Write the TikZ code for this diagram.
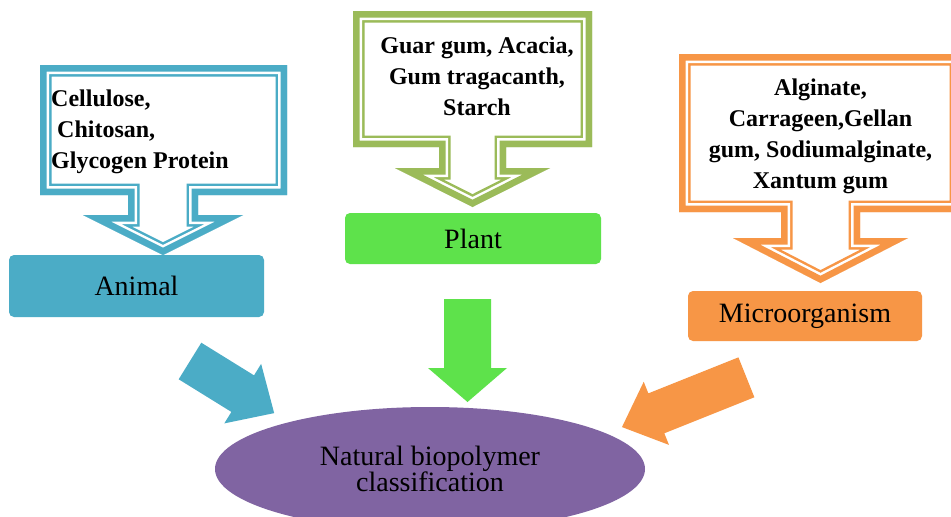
\documentclass[tikz,border=0pt]{standalone}
\usepackage{fontspec}
\setmainfont{Liberation Serif}
\usetikzlibrary{shapes.geometric}
\definecolor{cteal}{HTML}{4BACC6}
\definecolor{colive}{HTML}{9BBB59}
\definecolor{cgreen}{HTML}{5EE24B}
\definecolor{corange}{HTML}{F79646}
\definecolor{cpurple}{HTML}{8064A2}
\tikzset{
  catbox/.style={rectangle, rounded corners=5pt, inner sep=0pt, text=black,
    font=\fontsize{28}{25}\selectfont},
  calltext/.style={inner sep=0pt, text=black, font=\fontsize{24}{31}\selectfont\bfseries},
  pics/blockarrow/.style n args={4}{code={%
    \fill (0,{-#4/2}) -- ({#1-#2},{-#4/2}) -- ({#1-#2},{-#3/2}) -- (#1,0)
      -- ({#1-#2},{#3/2}) -- ({#1-#2},{#4/2}) -- (0,{#4/2}) -- cycle;}},
}
\newcommand\dblcallout[2]{%
  \begin{scope}
    \clip #2;
    \fill[white] #2;
    \draw[#1, line width=23pt, line join=miter] #2;
    \draw[white, line width=18pt, line join=miter] #2;
    \draw[#1, line width=13pt, line join=miter] #2;
  \end{scope}}
\begin{document}
\begin{tikzpicture}[x=1pt, y=-1pt]
\useasboundingbox (0,0) rectangle (951,517);
\fill[white] (0,0) rectangle (951,517);
\clip (0,0) rectangle (951,517);

% callouts
\dblcallout{cteal}{(40,65) -- (287,65) -- (287,195) -- (198,195) -- (198,215) -- (243,215) -- (163,255) -- (83,215) -- (128,215) -- (128,195) -- (40,195) -- cycle}
\dblcallout{colive}{(353,11) -- (592,11) -- (592,147) -- (506,147) -- (506,168) -- (550,168) -- (472.5,207) -- (395,168) -- (439,168) -- (439,147) -- (353,147) -- cycle}
\dblcallout{corange}{(679,54) -- (961,54) -- (961,212) -- (860,212) -- (860,238) -- (908,238) -- (820.5,283) -- (733,238) -- (781,238) -- (781,212) -- (679,212) -- cycle}

\node[calltext, anchor=north west, align=left] (atext) at (51,84.3)
  {\strut Cellulose,\\\hspace*{6pt}Chitosan,\\Glycogen Protein};
\node[calltext, anchor=north, align=center] (ptext) at (477,31.3)
  {\strut Guar gum, Acacia,\\Gum tragacanth,\\Starch};
\node[calltext, anchor=north, align=center] (mtext) at (820.5,73.3)
  {\strut Alginate,\\Carrageen,Gellan\\gum, Sodiumalginate,\\Xantum gum};

% category boxes
\node[catbox, fill=cteal, minimum width=255pt, minimum height=62pt] (animal) at (136.5,286) {Animal};
\node[catbox, fill=cgreen, minimum width=256pt, minimum height=51pt] (plant) at (473,238.5) {Plant};
\node[catbox, fill=corange, minimum width=234pt, minimum height=50pt] (micro) at (805,316) {Microorganism};

% central ellipse
\node[ellipse, fill=cpurple, inner sep=0pt, minimum width=430pt, minimum height=124pt,
  align=center, font=\fontsize{28}{25}\selectfont] (nbc) at (430,469)
  {Natural biopolymer\\classification};

% block arrows
\pic[cteal, rotate=-31.76] at (190,361) {blockarrow={99}{37}{70}{43}};
\pic[cgreen, rotate=-90] at (467.5,299) {blockarrow={103}{34}{79}{47}};
\pic[corange, rotate=201.8] at (746.4,377.3) {blockarrow={134}{37}{68}{43}};
\end{tikzpicture}
\end{document}
